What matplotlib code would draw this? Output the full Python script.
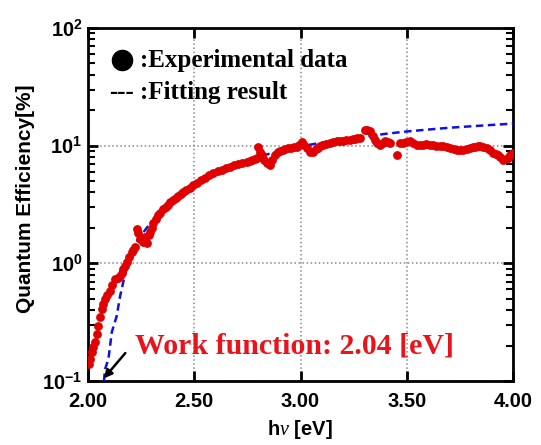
import matplotlib
matplotlib.use("Agg")
import matplotlib.pyplot as plt
import matplotlib.ticker as tk
import numpy as np

exp_E = [2.005, 2.010, 2.017, 2.025, 2.033, 2.040, 2.048, 2.056, 2.064, 2.072,
         2.080, 2.090, 2.104, 2.115, 2.127, 2.140, 2.151, 2.158, 2.165, 2.174,
         2.182, 2.194, 2.206, 2.214, 2.221, 2.229, 2.237, 2.245, 2.252, 2.259,
         2.268, 2.278, 2.285, 2.292, 2.299, 2.306, 2.318, 2.329, 2.341, 2.353,
         2.365, 2.376, 2.388, 2.400, 2.412, 2.424, 2.436, 2.447, 2.463, 2.480,
         2.496, 2.512, 2.531, 2.551, 2.570, 2.588, 2.610, 2.631, 2.650, 2.668,
         2.687, 2.706, 2.727, 2.747, 2.760, 2.772, 2.784, 2.794, 2.800, 2.809,
         2.817, 2.828, 2.841, 2.856, 2.866, 2.880, 2.893, 2.904, 2.916, 2.927,
         2.941, 2.955, 2.969, 2.982, 2.994, 3.006, 3.016, 3.029, 3.045, 3.059,
         3.071, 3.082, 3.094, 3.106, 3.122, 3.139, 3.155, 3.170, 3.185, 3.200,
         3.216, 3.233, 3.245, 3.256, 3.268, 3.280, 3.304, 3.315, 3.327, 3.339,
         3.351, 3.362, 3.374, 3.386, 3.398, 3.410, 3.421, 3.453, 3.468, 3.482,
         3.498, 3.515, 3.531, 3.547, 3.562, 3.576, 3.592, 3.609, 3.623, 3.638,
         3.655, 3.671, 3.688, 3.704, 3.720, 3.735, 3.750, 3.765, 3.782, 3.798,
         3.810, 3.821, 3.833, 3.845, 3.860, 3.876, 3.891, 3.906, 3.918, 3.929,
         3.941, 3.953, 3.965, 3.976, 3.988, 4.000]
exp_QE = [0.139, 0.155, 0.176, 0.195, 0.214, 0.25, 0.292, 0.35, 0.407, 0.45,
          0.495, 0.535, 0.579, 0.65, 0.73, 0.75, 0.776, 0.83, 0.889, 0.95,
          1.02, 1.13, 1.24, 1.30, 1.37, 1.94, 1.80, 1.62, 1.62, 1.51,
          1.66, 1.48, 1.75, 1.83, 2.0, 2.22, 2.38, 2.55, 2.70, 2.87,
          3.0, 3.16, 3.33, 3.48, 3.62, 3.77, 3.88, 4.0, 4.2, 4.41,
          4.65, 4.86, 5.1, 5.36, 5.62, 5.9, 6.05, 6.26, 6.45, 6.64,
          6.85, 7.03, 7.15, 7.31, 7.45, 7.6, 7.75, 7.9, 9.8, 8.9,
          8.39, 7.6, 7.17, 6.9, 7.6, 8.39, 8.8, 9.07, 9.25, 9.44,
          9.5, 9.62, 9.7, 9.8, 10.1, 10.8, 10.2, 9.62, 8.89, 8.89,
          9.3, 9.62, 9.9, 10.2, 10.4, 10.6, 10.7, 10.9, 10.9, 11.0,
          11.1, 11.2, 11.3, 11.5, 11.6, 11.7, 13.7, 13.5, 13.2, 12.0,
          11.2, 10.6, 10.2, 10.5, 10.9, 10.7, 10.6, 8.39, 10.5, 10.6,
          10.8, 10.9, 10.5, 10.2, 10.2, 10.2, 10.3, 10.2, 10.1, 10.0,
          9.95, 9.87, 9.75, 9.62, 9.4, 9.25, 9.2, 9.25, 9.45, 9.62,
          9.7, 9.8, 9.85, 9.87, 9.8, 9.62, 9.2, 8.73, 8.55, 8.39,
          8.0, 7.6, 7.7, 7.9, 8.3, 8.73]

# fitting curve
fit_E = [2.075, 2.080, 2.096, 2.112, 2.135, 2.151, 2.174, 2.182, 2.210, 2.235,
         2.282, 2.35, 2.43, 2.51, 2.60, 2.70, 2.76, 2.85, 3.00, 3.10,
         3.20, 3.31, 3.40, 3.50, 3.60, 3.70, 3.80, 3.90, 4.00]
fit_QE = [0.10, 0.126, 0.153, 0.26, 0.356, 0.525, 0.807, 1.0, 1.3, 1.6,
          2.06, 2.85, 3.8, 4.86, 5.95, 7.0, 7.6, 8.5, 9.87, 10.6,
          11.3, 12.0, 12.6, 13.2, 13.7, 14.2, 14.6, 15.0, 15.4]

x_ticks = [2.0, 2.5, 3.0, 3.5, 4.0]
x_ticklabels = ["2.00", "2.50", "3.00", "3.50", "4.00"]
y_ticks = [0.1, 1, 10, 100]
y_ticklabels = [r"$10^{-1}$", r"$10^{0}$", r"$10^{1}$", r"$10^{2}$"]

plt.rcParams["mathtext.fontset"] = "custom"
plt.rcParams["mathtext.rm"] = "Liberation Sans:bold"
plt.rcParams["mathtext.bf"] = "Liberation Sans:bold"
plt.rcParams["mathtext.it"] = "Liberation Serif:italic"

fig = plt.figure(figsize=(5.41, 4.45), dpi=100)
ax = fig.add_axes([88 / 541, 1 - 381 / 445, 425 / 541, 353 / 445])

ax.plot(fit_E, fit_QE, color="#1010e0", lw=1.8, ls=(0, (3, 1.8)), zorder=3)
ax.plot(exp_E, exp_QE, "o", color="#e00000", ms=5.3, mec="#e00000", zorder=4)

ax.set_yscale("log")
ax.set_xlim(2.0, 4.0)
ax.set_ylim(0.1, 100)
ax.set_xticks(x_ticks)
ax.set_xticklabels(x_ticklabels)
ax.set_yticks(y_ticks)
ax.set_yticklabels(y_ticklabels)
ax.yaxis.set_minor_locator(tk.LogLocator(base=10, subs=np.arange(2, 10)))
ax.yaxis.set_minor_formatter(tk.NullFormatter())

for lab in ax.get_xticklabels():
    lab.set_fontfamily("Liberation Sans")
    lab.set_fontweight("bold")
    lab.set_fontsize(14.5)
for lab in ax.get_yticklabels():
    lab.set_fontsize(14.5)

ax.tick_params(which="major", direction="in", length=7, width=2,
               top=True, right=True, pad=6)
ax.tick_params(axis="y", which="major", pad=4)
ax.tick_params(which="minor", direction="in", length=5, width=1.5,
               right=True)
ax.tick_params(axis="x", which="major", pad=8)
for s in ax.spines.values():
    s.set_linewidth(2)

ax.grid(True, which="major", ls=":", color="#888888", lw=1.1)

ax.set_ylabel("Quantum Efficiency[%]", fontfamily="Liberation Sans",
              fontweight="bold", fontsize=15)
ax.yaxis.set_label_coords(-0.125, 0.517)
ax.set_xlabel(r"h$\nu$ [eV]", fontfamily="Liberation Sans",
              fontweight="bold", fontsize=14.5)
ax.xaxis.set_label_coords(0.499, -0.105)

# legend drawn by hand
ax.plot([0.08], [0.909], "o", color="black", ms=14.5, transform=ax.transAxes,
        clip_on=False, zorder=5)
serif = dict(fontfamily="Liberation Serif", fontweight="bold", fontsize=18,
             transform=ax.transAxes, va="baseline")
ax.text(0.122, 0.89, ":Experimental data", ha="left", **serif)
ax.text(0.050, 0.80, "---", ha="left", **serif)
ax.text(0.122, 0.80, ":Fitting result", ha="left", **serif)

ax.text(0.11, 0.079, "Work function: 2.04 [eV]", color="#e8141c",
        fontfamily="Liberation Serif", fontweight="bold", fontsize=21.5,
        transform=ax.transAxes, ha="left", va="baseline")
ax.annotate("", xy=(2.066, 0.101), xytext=(2.184, 0.18),
            arrowprops=dict(arrowstyle="-|>", color="black", lw=1.8,
                            mutation_scale=12))

fig.savefig("out.png", dpi=100)
